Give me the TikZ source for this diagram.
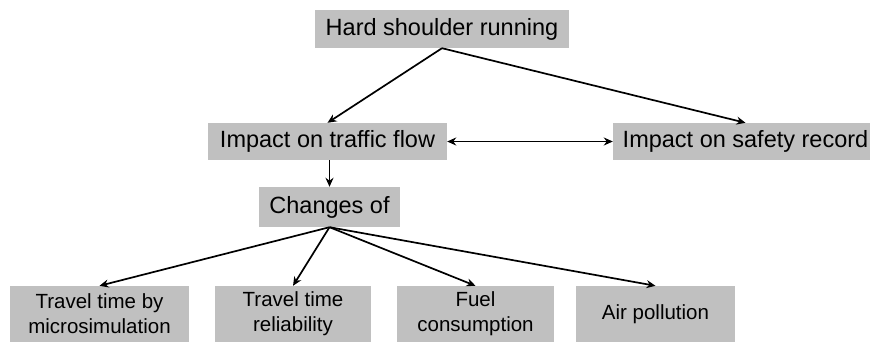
\documentclass[tikz,border=0pt]{standalone}
\usepackage{fontspec}
\setmainfont{Liberation Sans}
\usetikzlibrary{arrows.meta,positioning}
\definecolor{boxgray}{RGB}{192,192,192}

\begin{document}
\begin{tikzpicture}[x=1pt,y=-1pt,
  box/.style={fill=boxgray,inner sep=0pt,anchor=center,font=\fontsize{23.5}{28}\selectfont},
  smallbox/.style={box,minimum height=56pt,align=center,font=\fontsize{20.5}{25}\selectfont},
  link/.style={line width=1.7pt,-{Stealth[length=9pt,width=8pt]}},
  both/.style={line width=1.7pt,{Stealth[length=9pt,width=8pt]}-{Stealth[length=9pt,width=8pt]}}]
\useasboundingbox (0,0) rectangle (870,343);
% top level
\node[box,minimum width=254pt,minimum height=38pt] (hsr) at (442,29) {Hard shoulder running};
% impacts
\node[box,minimum width=239pt,minimum height=37pt] (flow) at (327.5,141.5) {Impact on traffic flow};
\node[box,minimum width=265pt,minimum height=37pt] (safety) at (745.5,141.5) {Impact on safety record};
\node[box,minimum width=141pt,minimum height=40pt] (changes) at (329.5,207) {Changes of};
% changes
\node[smallbox,minimum width=179pt] (tt) at (99.5,314) {Travel time by\\microsimulation};
\node[smallbox,minimum width=156pt] (ttr) at (293,314) {Travel time\\reliability};
\node[smallbox,minimum width=157pt] (fuel) at (475.5,314) {Fuel\\consumption};
\node[smallbox,minimum width=159pt] (air) at (655.5,314) {Air pollution};

\draw[link] (hsr.south) -- (flow.north);
\draw[link] (hsr.south) -- (safety.north);
\draw[both] (flow.east) -- (safety.west);
\draw[link] (changes.north |- flow.south) -- (changes.north);
\foreach \n in {tt,ttr,fuel,air}
  \draw[link] (changes.south) -- (\n.north);
\end{tikzpicture}
\end{document}
